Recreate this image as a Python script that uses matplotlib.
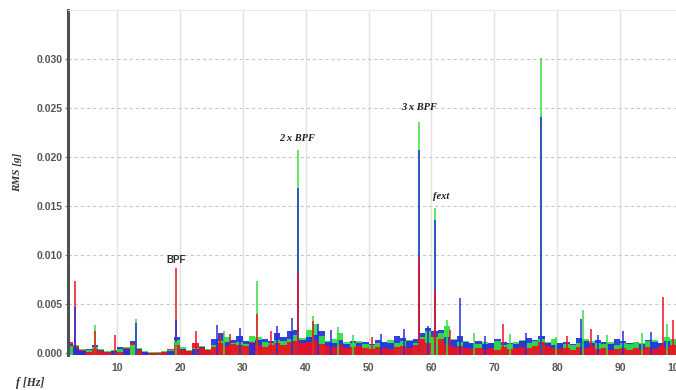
import numpy as np
import matplotlib
matplotlib.use("Agg")
import matplotlib.pyplot as plt
import matplotlib.transforms as mtransforms

# ---------------- data (amplitudes in mg, i.e. 1e-3 g) ----------------
floor_freq_start = 2.5          # 1 Hz wide spectral bins, 2.5 ... 99.5 Hz
floor_red = [1.3, 0.9, 0.5, 0.3, 0.6, 0.4, 0.3, 0.5, 0.3, 0.7, 1.2, 0.5, 0.3, 0.2, 0.2, 0.3, 0.6, 1.0, 0.5, 0.4, 1.2, 0.7, 0.5,
             0.8, 1.2, 0.9, 1.1, 1.0, 0.9, 1.3, 1.0, 0.8, 1.0, 1.2, 1.0, 1.3, 1.4, 1.2, 1.3, 1.5, 1.1, 0.9, 0.8,
             1.0, 0.7, 0.8, 0.9, 0.7, 0.6, 0.8, 0.7, 0.6, 0.8, 0.9, 0.7, 1.0, 1.6, 1.2, 2.0, 1.6, 1.0, 0.8, 0.9,
             0.7, 0.6, 0.7, 0.6, 0.7, 0.5, 0.8, 0.6, 0.7, 0.8, 0.7, 0.9, 1.3, 0.9, 0.7, 0.6, 0.7, 0.5, 0.8, 0.7,
             0.9, 0.6, 0.7, 0.5, 0.6, 0.7, 0.5, 0.7, 0.6, 0.8, 0.6, 0.9, 0.8, 1.0, 0.7]
floor_green = [0.9, 1.0, 0.6, 0.5, 0.8, 0.6, 0.4, 0.5, 0.6, 0.8, 1.0, 0.7, 0.4, 0.3, 0.3, 0.4, 0.5, 1.5, 0.8, 0.5, 0.7, 0.9, 0.6,
               1.0, 1.4, 1.8, 1.2, 1.3, 1.1, 1.9, 1.8, 1.3, 1.2, 1.5, 1.4, 1.6, 2.0, 1.7, 2.6, 3.2, 1.9, 1.4, 1.6,
               2.2, 1.3, 1.2, 1.4, 1.1, 1.0, 1.2, 1.3, 1.5, 1.2, 1.4, 1.5, 1.2, 1.8, 2.4, 1.8, 2.2, 3.0, 1.6, 1.3,
               1.4, 1.2, 1.1, 1.3, 1.2, 1.4, 1.0, 1.1, 1.3, 1.5, 1.2, 1.4, 1.6, 1.3, 1.6, 1.2, 1.1, 1.0, 1.2, 1.6,
               1.4, 1.2, 1.1, 1.3, 1.0, 1.2, 1.1, 1.3, 1.2, 1.4, 1.5, 1.2, 1.8, 1.6, 1.3]
floor_blue = [1.1, 0.7, 0.4, 0.6, 1.0, 0.5, 0.3, 0.4, 0.8, 0.6, 1.4, 0.6, 0.3, 0.2, 0.3, 0.3, 0.4, 1.8, 0.6, 0.4, 0.6, 0.8, 0.5,
              1.6, 2.2, 1.3, 1.5, 1.9, 1.4, 1.2, 1.5, 1.6, 1.4, 2.2, 1.8, 2.4, 2.6, 1.5, 1.8, 2.0, 2.4, 1.3, 1.2,
              1.5, 1.1, 1.4, 1.2, 1.3, 1.1, 1.5, 1.3, 1.2, 1.9, 1.7, 1.4, 1.6, 2.2, 2.8, 2.4, 2.6, 1.8, 1.5, 1.9,
              1.3, 1.2, 1.4, 1.1, 1.2, 1.6, 1.3, 1.2, 1.1, 1.4, 1.7, 1.5, 1.9, 1.2, 1.0, 1.2, 1.3, 1.1, 1.7, 1.4,
              1.2, 1.5, 1.3, 1.1, 1.6, 1.4, 1.2, 1.3, 1.1, 1.5, 1.3, 1.2, 1.4, 1.6, 1.2]

peaks_green_f = [6.5, 13.0, 19.4, 27.0, 32.3, 38.8, 41.2, 45.1, 47.5, 58.0, 60.5, 62.5, 66.8, 72.5,
                 77.4, 79.8, 84.1, 88.0, 93.5, 97.5]
peaks_green_a = [2.9, 3.5, 1.2, 2.2, 7.3, 20.7, 3.8, 2.7, 1.8, 23.6, 14.8, 3.4, 2.0, 1.9,
                 30.1, 1.6, 4.4, 1.8, 2.0, 3.0]
peaks_blue_f = [3.3, 13.0, 19.4, 25.9, 29.6, 35.4, 37.8, 38.8, 42.0, 44.0, 52.0, 55.6, 58.0, 59.5,
                60.5, 64.5, 68.5, 75.0, 77.4, 83.8, 86.5, 90.4, 95.0]
peaks_blue_a = [4.7, 3.1, 3.4, 2.9, 2.6, 2.8, 3.6, 16.8, 3.0, 2.3, 1.9, 2.5, 20.7, 2.8,
                13.6, 5.6, 1.7, 2.0, 24.1, 3.5, 1.8, 2.2, 2.1]
peaks_red_f = [3.3, 6.5, 9.7, 19.4, 22.5, 26.3, 28.0, 32.3, 34.5, 38.8, 41.2, 50.5, 58.0, 60.5,
               63.0, 71.4, 81.5, 85.4, 96.8, 98.5]
peaks_red_a = [7.4, 2.2, 1.8, 8.7, 2.2, 2.0, 1.9, 4.0, 2.2, 8.2, 3.3, 1.6, 9.8, 6.4,
               2.4, 3.0, 1.7, 2.5, 5.7, 3.4]

annotations = [("BPF", 19.4, 9.5, "sans"), ("2 x BPF", 38.6, 21.9, "serif"),
               ("3 x BPF", 58.0, 25.1, "serif"), ("fext", 61.6, 16.0, "serif")]

x_ticks = [10, 20, 30, 40, 50, 60, 70, 80, 90, 100]
y_ticks = [0.000, 0.005, 0.010, 0.015, 0.020, 0.025, 0.030]

MG = 1e-3
C_RED, C_GREEN, C_BLUE = "#f01020", "#30e040", "#2030e0"

# ---------------- figure ----------------
fig = plt.figure(figsize=(6.76, 3.90), dpi=100)
W, H = 676, 390
left_px, right_px, top_px, bot_px = 68, 686, 10, 355
ax = fig.add_axes([left_px / W, 1 - bot_px / H, (right_px - left_px) / W, (bot_px - top_px) / H])
ax.set_xlim(2.2, 100.5)
ax.set_ylim(-0.0002, 0.035)

# grid
for xv in x_ticks:
    ax.axvline(xv, color="#e2e2e2", lw=1.0, zorder=0)
for yv in y_ticks[1:]:
    ax.axhline(yv, color="#c8c8c8", lw=0.8, ls=(0, (3, 2.5)), zorder=0)

# floor bars (tallest drawn first so shorter ones stay visible in front)
nb = len(floor_red)
bins = floor_freq_start + np.arange(nb)
bar_x, bar_h, bar_c = [], [], []
for vals, col in ((floor_green, C_GREEN), (floor_blue, C_BLUE), (floor_red, C_RED)):
    for f, v in zip(bins, vals):
        bar_x.append(f); bar_h.append(v * MG); bar_c.append(col)
order = np.argsort(bar_h)[::-1]
ax.bar([bar_x[i] for i in order], [bar_h[i] for i in order], width=1.0,
       color=[bar_c[i] for i in order], bottom=-0.0002, linewidth=0, zorder=2, alpha=0.92)

# peaks
pk = []
for fs, am, col in ((peaks_green_f, peaks_green_a, C_GREEN), (peaks_blue_f, peaks_blue_a, C_BLUE),
                    (peaks_red_f, peaks_red_a, C_RED)):
    for f, a in zip(fs, am):
        pk.append((a * MG, f, col))
pk.sort(reverse=True)
for k, (a, f, col) in enumerate(pk):
    ax.vlines(f, -0.0002, a, color=col, lw=1.1, zorder=3 + k * 0.01)

# spines
for s in ("right", "bottom"):
    ax.spines[s].set_visible(False)
ax.spines["top"].set_color("#e6e6e6")
ax.spines["left"].set_color("#505050")
ax.spines["left"].set_linewidth(2.2)

ax.set_xticks(x_ticks)
ax.set_xticklabels([str(v) for v in x_ticks])
ax.set_yticks(y_ticks)
ax.set_yticklabels([f"{v:.3f}" for v in y_ticks])
ax.tick_params(axis="x", length=0, pad=6, labelsize=7.5, labelcolor="#555555")
ax.tick_params(axis="y", length=2.5, width=1, color="#888888", pad=1.5, labelsize=7.5, labelcolor="#555555")
for lab in ax.get_xticklabels() + ax.get_yticklabels():
    lab.set_family("Liberation Sans")
    lab.set_fontweight("bold")

# the last x label sits at the figure's right edge (as in the cropped original)
fig.canvas.draw()
last = ax.get_xticklabels()[-1]
last.set_transform(last.get_transform() + mtransforms.ScaledTranslation(-7 / 100, 0, fig.dpi_scale_trans))

fig.text(18 / W, 1 - 172 / H, "RMS [g]", rotation=90, ha="center", va="center",
         fontsize=8, fontweight="bold", fontstyle="italic", family="Liberation Serif", color="#333333")
fig.text(16 / W, 1 - 383 / H, "f [Hz]", ha="left", va="center",
         fontsize=8.5, fontweight="bold", fontstyle="italic", family="Liberation Serif", color="#333333")

for txt, f, a, fam in annotations:
    if fam == "sans":
        ax.text(f, a * MG, txt, ha="center", va="center", fontsize=7, fontweight="bold",
                family="Liberation Sans", color="#303030", zorder=10)
    else:
        ax.text(f, a * MG, txt, ha="center", va="center", fontsize=7.5, fontweight="bold",
                fontstyle="italic", family="Liberation Serif", color="#202020", zorder=10)

fig.savefig("out.png", dpi=100)
